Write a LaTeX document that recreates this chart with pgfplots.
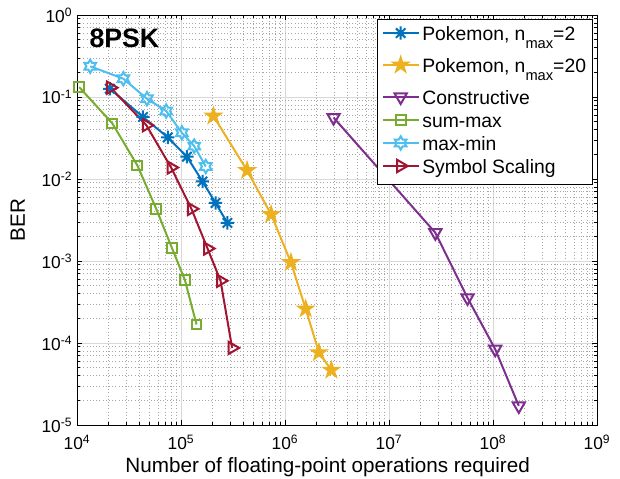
\documentclass[border=0pt]{standalone}
\usepackage{fontspec}
\setmainfont{Liberation Sans}
\usepackage{pgfplots}
\pgfplotsset{compat=1.18}

\definecolor{c1}{rgb}{0,0.447,0.741}
\definecolor{c2}{rgb}{0.929,0.694,0.125}
\definecolor{c3}{rgb}{0.494,0.184,0.556}
\definecolor{c4}{rgb}{0.466,0.674,0.188}
\definecolor{c5}{rgb}{0.301,0.745,0.933}
\definecolor{c6}{rgb}{0.635,0.078,0.184}

% matlab-like markers
\pgfdeclareplotmark{ast8}{%
  \pgfpathmoveto{\pgfpointpolar{0}{\pgfplotmarksize}}\pgfpathlineto{\pgfpointpolar{180}{\pgfplotmarksize}}%
  \pgfpathmoveto{\pgfpointpolar{90}{\pgfplotmarksize}}\pgfpathlineto{\pgfpointpolar{270}{\pgfplotmarksize}}%
  \pgfpathmoveto{\pgfpointpolar{45}{\pgfplotmarksize}}\pgfpathlineto{\pgfpointpolar{225}{\pgfplotmarksize}}%
  \pgfpathmoveto{\pgfpointpolar{135}{\pgfplotmarksize}}\pgfpathlineto{\pgfpointpolar{315}{\pgfplotmarksize}}%
  \pgfusepathqstroke}
\pgfdeclareplotmark{pentagram}{%
  \pgfpathmoveto{\pgfpointpolar{90}{\pgfplotmarksize}}%
  \pgfpathlineto{\pgfpointpolar{126}{0.382*\pgfplotmarksize}}%
  \pgfpathlineto{\pgfpointpolar{162}{\pgfplotmarksize}}%
  \pgfpathlineto{\pgfpointpolar{198}{0.382*\pgfplotmarksize}}%
  \pgfpathlineto{\pgfpointpolar{234}{\pgfplotmarksize}}%
  \pgfpathlineto{\pgfpointpolar{270}{0.382*\pgfplotmarksize}}%
  \pgfpathlineto{\pgfpointpolar{306}{\pgfplotmarksize}}%
  \pgfpathlineto{\pgfpointpolar{342}{0.382*\pgfplotmarksize}}%
  \pgfpathlineto{\pgfpointpolar{18}{\pgfplotmarksize}}%
  \pgfpathlineto{\pgfpointpolar{54}{0.382*\pgfplotmarksize}}%
  \pgfpathclose\pgfusepathqfillstroke}
\pgfdeclareplotmark{hexagram}{%
  \pgfpathmoveto{\pgfpointpolar{90}{\pgfplotmarksize}}%
  \pgfpathlineto{\pgfpointpolar{120}{0.577*\pgfplotmarksize}}%
  \pgfpathlineto{\pgfpointpolar{150}{\pgfplotmarksize}}%
  \pgfpathlineto{\pgfpointpolar{180}{0.577*\pgfplotmarksize}}%
  \pgfpathlineto{\pgfpointpolar{210}{\pgfplotmarksize}}%
  \pgfpathlineto{\pgfpointpolar{240}{0.577*\pgfplotmarksize}}%
  \pgfpathlineto{\pgfpointpolar{270}{\pgfplotmarksize}}%
  \pgfpathlineto{\pgfpointpolar{300}{0.577*\pgfplotmarksize}}%
  \pgfpathlineto{\pgfpointpolar{330}{\pgfplotmarksize}}%
  \pgfpathlineto{\pgfpointpolar{0}{0.577*\pgfplotmarksize}}%
  \pgfpathlineto{\pgfpointpolar{30}{\pgfplotmarksize}}%
  \pgfpathlineto{\pgfpointpolar{60}{0.577*\pgfplotmarksize}}%
  \pgfpathclose\pgfusepathqstroke}

% subscript that also makes its legend row deeper
\newcommand{\nmax}{n\raisebox{-0.45em}[0pt][11.9pt]{\fontsize{11}{12}\selectfont max}}

\begin{document}
\begin{tikzpicture}
\begin{axis}[
  scale only axis, width=390pt, height=307.5pt,
  xmode=log, ymode=log, log basis x=10, log basis y=10,
  xmin=1e4, xmax=1e9, ymin=1e-5, ymax=1,
  xticklabel={10\textsuperscript{\pgfmathparse{int(round(\tick))}\pgfmathresult}},
  yticklabel={10\textsuperscript{\pgfmathparse{int(round(\tick))}\pgfmathresult}},
  tick align=inside,
  major tick length=4pt, minor tick length=2.2pt,
  every tick/.style={black, line width=0.4pt},
  grid=both,
  major grid style={black!15, line width=0.5pt},
  minor grid style={black!35, dotted, line width=0.4pt},
  axis line style={line width=0.5pt},
  tick label style={font=\fontsize{13}{15}\selectfont},
  xticklabel style={yshift=-4pt},
  label style={font=\fontsize{15.5}{17}\selectfont},
  xlabel={Number of floating-point operations required},
  ylabel={BER},
  xlabel style={at={(axis description cs:0.5,0)}, anchor=base, yshift=-35.5pt, xshift=-7pt},
  ylabel style={at={(axis description cs:0,0.5)}, anchor=center, yshift=44.5pt},
  legend style={at={(1,1)}, anchor=north east, xshift=-3pt, yshift=-3pt,
    font=\fontsize{14.5}{17.25}\selectfont, draw=black, line width=0.5pt,
    inner xsep=3pt, inner ysep=3.5pt, row sep=0pt,
    nodes={inner xsep=2pt, inner ysep=0pt, text depth=},
    cells={anchor=base west}},
  legend image code/.code={\draw[mark repeat=2,mark phase=2]
    plot coordinates {(0pt,5.3pt) (13.5pt,5.3pt) (27pt,5.3pt)};},
]

\addplot[c1, line width=1.5pt, mark=ast8, mark size=5pt] coordinates {
  (2.07e4,0.126) (4.31e4,0.0571) (7.46e4,0.0322) (1.14e5,0.0187)
  (1.61e5,0.00933) (2.15e5,0.0051) (2.79e5,0.00292)};
\addlegendentry{\strut Pokemon, \nmax=2}

\addplot[c2, line width=1.5pt, mark=pentagram, mark size=5.5pt, mark options={fill=c2}] coordinates {
  (2.05e5,0.0587) (4.32e5,0.0127) (7.36e5,0.00369) (1.14e6,9.6e-4)
  (1.58e6,2.61e-4) (2.12e6,7.65e-5) (2.79e6,4.67e-5)};
\addlegendentry{\strut Pokemon, \nmax=20}

\addplot[c3, line width=1.5pt, mark=triangle, mark size=5.3pt, mark options={rotate=180}] coordinates {
  (2.93e6,0.0561) (2.79e7,2.21e-3) (5.69e7,3.55e-4) (1.05e8,8.4e-5) (1.77e8,1.71e-5)};
\addlegendentry{\strut Constructive}

\addplot[c4, line width=1.5pt, mark=square, mark size=3.7pt] coordinates {
  (1.05e4,0.132) (2.19e4,0.0475) (3.81e4,0.0146) (5.78e4,4.32e-3)
  (8.2e4,1.43e-3) (1.09e5,5.86e-4) (1.41e5,1.68e-4)};
\addlegendentry{\strut sum-max}

\addplot[c5, line width=1.5pt, mark=hexagram, mark size=5pt] coordinates {
  (1.34e4,0.237) (2.79e4,0.167) (4.71e4,0.0953) (7.2e4,0.0675)
  (1.02e5,0.0366) (1.34e5,0.0252) (1.73e5,0.0142)};
\addlegendentry{\strut max-min}

\addplot[c6, line width=1.5pt, mark=triangle, mark size=5.3pt, mark options={rotate=-90}] coordinates {
  (2.1e4,0.13) (4.64e4,0.0453) (8.03e4,0.0138) (1.26e5,4.32e-3)
  (1.8e5,1.42e-3) (2.4e5,5.74e-4) (3.1e5,8.72e-5)};
\addlegendentry{\strut Symbol Scaling}

\node[anchor=west, font=\bfseries\fontsize{20}{22}\selectfont] at (rel axis cs:0.015,0.942) {8PSK};
\end{axis}
\pgfresetboundingbox
\path ([shift={(-57.75pt,-39.75pt)}]current axis.south west) rectangle ([shift={(17.25pt,11.25pt)}]current axis.north east);
\end{tikzpicture}
\end{document}
